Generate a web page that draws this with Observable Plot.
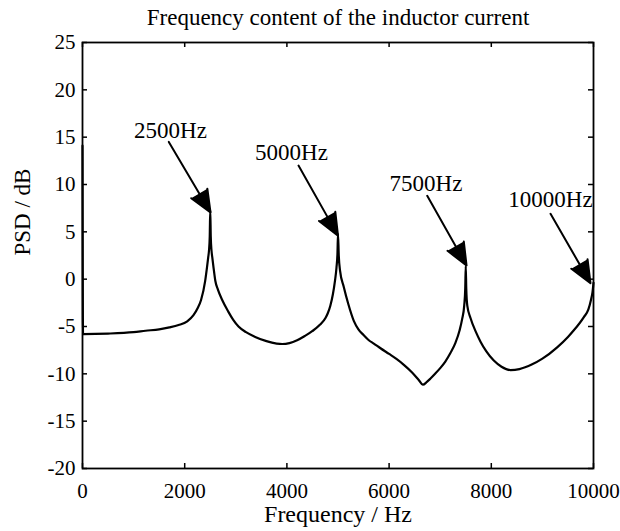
<!DOCTYPE html>
<html>
<head>
<meta charset="utf-8">
<script src="https://cdn.jsdelivr.net/npm/d3@7"></script>
<script src="https://cdn.jsdelivr.net/npm/@observablehq/plot@0.6"></script>
<style>
  html, body { margin: 0; padding: 0; background: white; }
</style>
</head>
<body>
<div id="chart"></div>
<script>
// Frequency (Hz) and PSD (dB)
const freq = [0, 10, 500, 1000, 1233, 1500, 1700, 1880, 2050, 2172, 2250, 2320, 2400, 2435, 2460, 2475, 2490, 2500,
  2510, 2525, 2540, 2565, 2600, 2650, 2734, 2850, 2950, 3053, 3200, 3380, 3600, 3800, 3908, 4050, 4200, 4350, 4495,
  4650, 4755, 4800, 4850, 4900, 4940, 4970, 4990, 5000,
  5015, 5040, 5112, 5200, 5309, 5400, 5500, 5603, 5700, 5832, 6000, 6150, 6300, 6450, 6580, 6660, 6740, 6810, 6900, 7000, 7100, 7200, 7300, 7380, 7430, 7470, 7490, 7500,
  7510, 7530, 7593, 7700, 7789, 7900, 8049, 8200, 8376, 8550, 8800, 9000, 9289, 9500, 9615, 9811, 9900, 9950, 9980, 10000];
const psd = [14.1, -5.8, -5.75, -5.6, -5.45, -5.3, -5.1, -4.85, -4.45, -3.8, -3.1, -2.2, -0.2, 1.2, 2.3, 3.0, 4.5, 7.3,
  4.5, 3.0, 2.3, 1.2, -0.2, -1.1, -2.2, -3.4, -4.3, -5.0, -5.6, -6.1, -6.55, -6.8, -6.85, -6.75, -6.45, -6.0, -5.5,
  -4.8, -4.1, -3.6, -2.8, -1.6, -0.2, 1.2, 2.8, 4.8,
  2.5, 0.9, -0.8, -2.6, -4.4, -5.3, -5.9, -6.45, -6.8, -7.3, -7.9, -8.45, -9.1, -9.85, -10.65, -11.15, -10.85, -10.5, -10.0, -9.4, -8.7, -7.8, -6.7, -5.4, -4.2, -2.8, -1.0, 1.4,
  -1.0, -2.8, -4.1, -5.6, -6.6, -7.6, -8.6, -9.25, -9.6, -9.5, -9.0, -8.4, -7.2, -6.1, -5.4, -4.0, -3.2, -2.2, -1.4, -0.4];

const xTicks = [0, 2000, 4000, 6000, 8000, 10000];
const yTicks = [-20, -15, -10, -5, 0, 5, 10, 15, 20, 25];

// Annotations (data units)
const annLabels = ["2500Hz", "5000Hz", "7500Hz", "10000Hz"];
const annTextX = [1722, 4090, 6722, 9159];
const annTextY = [15.7, 13.4, 10.05, 8.4];
const arrowX1 = [1689, 4227, 6746, 9159];
const arrowY1 = [14.5, 12.0, 8.8, 6.9];
const arrowX2 = [2505, 5000, 7515, 9941];
const arrowY2 = [7.05, 4.6, 1.45, -0.42];

const titleText = "Frequency content of the inductor current";
const xLabel = "Frequency / Hz";
const yLabel = "PSD / dB";

const data = freq.map((f, i) => ({f, db: psd[i]}));
const ann = annLabels.map((t, i) => ({t, tx: annTextX[i], ty: annTextY[i], x1: arrowX1[i], y1: arrowY1[i], x2: arrowX2[i], y2: arrowY2[i]}));

const W = 620, H = 531, mL = 82, mR = 27, mT = 42, mB = 63;
const innerW = W - mL - mR, innerH = H - mT - mB, tk = 5;
const font = "'Liberation Serif', 'Times New Roman', Times, serif";

const chart = Plot.plot({
  width: W, height: H,
  marginLeft: mL, marginRight: mR, marginTop: mT, marginBottom: mB,
  style: {fontFamily: font, fontSize: "21px", color: "black", background: "white", overflow: "visible"},
  x: {domain: [0, 10000]},
  y: {domain: [-20, 25]},
  marks: [
    Plot.axisX(xTicks, {tickSize: 0, tickPadding: 15, tickFormat: d => String(d), label: null, fontSize: 21}),
    Plot.axisY(yTicks, {tickSize: 0, tickPadding: 7, tickFormat: d => String(d), label: null, fontSize: 21}),
    Plot.tickX(xTicks, {x: d => d, insetTop: innerH - tk, strokeWidth: 1.5}),
    Plot.tickX(xTicks, {x: d => d, insetBottom: innerH - tk, strokeWidth: 1.5}),
    Plot.tickY(yTicks, {y: d => d, insetRight: innerW - tk, strokeWidth: 1.5}),
    Plot.tickY(yTicks, {y: d => d, insetLeft: innerW - tk, strokeWidth: 1.5}),
    Plot.frame({strokeWidth: 1.8}),
    Plot.line(data, {x: "f", y: "db", strokeWidth: 2.2, stroke: "black", curve: "monotone-x"}),
    Plot.arrow(ann, {x1: "x1", y1: "y1", x2: "x2", y2: "y2", strokeWidth: 2, headLength: 18, headAngle: 46, fill: "black", stroke: "black", strokeLinejoin: "miter"}),
    Plot.text(ann, {x: "tx", y: "ty", text: "t", fontSize: 23, textAnchor: "middle", lineAnchor: "middle"}),
    Plot.text([titleText], {frameAnchor: "top", dy: -25, fontSize: 23, lineAnchor: "middle", text: d => d}),
    Plot.text([xLabel], {frameAnchor: "bottom", dy: 46, fontSize: 24, lineAnchor: "middle", text: d => d}),
    Plot.text([yLabel], {frameAnchor: "left", dx: -60, rotate: -90, fontSize: 23, lineAnchor: "middle", text: d => d})
  ]
});
document.getElementById("chart").appendChild(chart);
</script>
</body>
</html>
